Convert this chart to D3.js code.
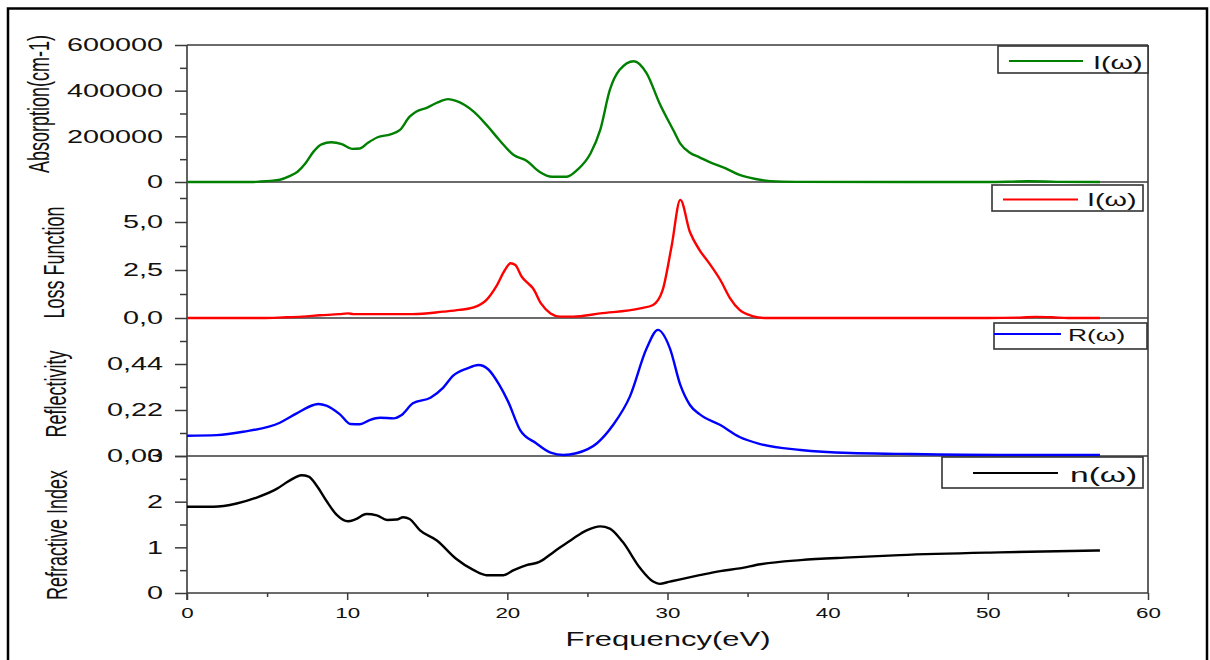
<!DOCTYPE html>
<html>
<head>
<meta charset="utf-8">
<script src="https://cdn.jsdelivr.net/npm/d3@7/dist/d3.min.js"></script>
<style>
  html, body { margin: 0; padding: 0; background: #fff; }
  svg { display: block; }
  text { font-family: "Liberation Sans", Arial, sans-serif; fill: #111; }
</style>
</head>
<body>
<svg id="chart" width="1210" height="660"></svg>
<script>
// ---------------- DATA ----------------
const xTicks = [0, 10, 20, 30, 40, 50, 60];
const xMinor = [5, 15, 25, 35, 45, 55];

// Absorption I(w)
const absE = [0, 2, 4, 4.6, 5.2, 5.8, 6.4, 6.9, 7.4, 7.9, 8.4, 9.0, 9.66, 10.3, 10.8, 11.3, 11.9, 12.7, 13.3, 13.9, 14.3, 15.0, 15.6, 16.3, 16.8, 17.9, 18.7, 19.5, 20.4, 21.2, 22.0, 22.8, 23.7, 24.4, 25.2, 25.8, 26.4, 27.0, 27.9, 28.7, 29.5, 30.4, 30.8, 31.4, 32.0, 32.6, 33.6, 34.5, 35.5, 36.4, 38, 45, 50, 51.5, 52.5, 53.5, 54.5, 57];
const absV = [0, 0, 0, 2000, 5000, 10000, 26000, 45000, 82000, 133000, 165000, 174000, 166000, 145000, 147000, 172000, 196000, 209000, 228000, 286000, 308000, 326000, 347000, 363000, 355000, 308000, 250000, 184000, 118000, 93000, 45000, 23000, 23000, 55000, 126000, 228000, 403000, 490000, 529000, 476000, 345000, 222000, 168000, 128000, 108000, 88000, 61000, 31000, 13000, 4000, 500, 0, 0, 1500, 3000, 2500, 500, 0];
const absTicks = [0, 200000, 400000, 600000];
const absMinor = [100000, 300000, 500000];
const absTickLabels = ["0", "200000", "400000", "600000"];

// Loss function L(w)
const lossE = [0, 4.7, 6, 7.2, 8.3, 9.5, 10.05, 10.4, 12, 14.1, 16.0, 17.0, 17.9, 18.7, 19.3, 19.85, 20.2, 20.5, 20.9, 21.3, 21.6, 22.1, 22.7, 23.3, 24.1, 25.8, 28.3, 29.1, 29.7, 30.25, 30.8, 31.4, 32.0, 32.6, 33.3, 33.9, 34.5, 35.3, 36.1, 40, 50, 52, 53, 54, 55, 57];
const lossV = [0, 0, 0.03, 0.07, 0.14, 0.2, 0.24, 0.2, 0.2, 0.2, 0.33, 0.42, 0.55, 0.94, 1.63, 2.5, 2.85, 2.76, 2.15, 1.8, 1.55, 0.76, 0.24, 0.07, 0.07, 0.24, 0.5, 0.68, 1.46, 3.71, 6.15, 4.48, 3.54, 2.86, 1.98, 1.04, 0.42, 0.1, 0, 0, 0, 0.02, 0.06, 0.04, 0, 0];
const lossTicks = [0, 2.5, 5.0];
const lossMinor = [1.25, 3.75, 6.25];
const lossTickLabels = ["0,0", "2,5", "5,0"];

// Reflectivity R(w)
const reflE = [0, 1.85, 3.5, 5.8, 6.85, 7.9, 8.2, 8.7, 9.55, 10.2, 10.8, 11.4, 12.05, 12.9, 13.4, 14.1, 15.2, 16.0, 16.6, 17.5, 18.2, 18.8, 19.5, 20.05, 20.8, 21.8, 22.7, 23.5, 24.3, 25.6, 26.6, 27.65, 28.7, 29.4, 30.15, 30.8, 31.4, 32.0, 33.3, 34.5, 35.8, 38.3, 41.4, 44.5, 50.7, 57];
const reflV = [0.097, 0.1, 0.116, 0.159, 0.204, 0.244, 0.249, 0.241, 0.199, 0.153, 0.152, 0.172, 0.183, 0.18, 0.196, 0.252, 0.279, 0.327, 0.383, 0.419, 0.435, 0.415, 0.34, 0.26, 0.124, 0.061, 0.016, 0.005, 0.013, 0.061, 0.148, 0.284, 0.515, 0.603, 0.515, 0.34, 0.244, 0.2, 0.148, 0.091, 0.057, 0.029, 0.014, 0.01, 0.005, 0.005];
const reflTicks = [0, 0.22, 0.44];
const reflMinor = [0.11, 0.33, 0.55];
const reflTickLabels = ["0,00", "0,22", "0,44"];

// Refractive index n(w)
const refE = [0, 1.65, 3.1, 4.35, 5.6, 6.4, 7.15, 7.6, 8.1, 8.7, 9.35, 10.05, 10.5, 11.2, 11.85, 12.5, 13.1, 13.5, 13.9, 14.55, 15.6, 16.8, 17.9, 18.7, 19.75, 20.4, 21.2, 22.0, 22.9, 24.1, 24.95, 25.8, 26.4, 27.2, 28.3, 29.1, 29.5, 30.15, 30.8, 32, 33.3, 34.5, 35.8, 38.3, 41.4, 44.5, 50.7, 57];
const refV = [1.89, 1.89, 1.96, 2.09, 2.28, 2.46, 2.58, 2.55, 2.35, 2.02, 1.71, 1.57, 1.61, 1.73, 1.70, 1.60, 1.61, 1.66, 1.62, 1.37, 1.15, 0.75, 0.5, 0.39, 0.39, 0.5, 0.61, 0.68, 0.9, 1.19, 1.37, 1.46, 1.41, 1.12, 0.54, 0.25, 0.2, 0.25, 0.3, 0.39, 0.48, 0.54, 0.63, 0.72, 0.78, 0.83, 0.89, 0.93];
const refTicks = [0, 1, 2, 3];
const refMinor = [0.5, 1.5, 2.5];
const refTickLabels = ["0", "1", "2", "3"];

const legendLabels = ["I(\u03c9)", "I(\u03c9)", "R(\u03c9)", "n(\u03c9)"];
const yTitles = ["Absorption(cm-1)", "Loss Function", "Reflectivity", "Refractive Index"];
const xTitle = "Frequency(eV)";

// ---------------- LAYOUT ----------------
const SX = 1.6; // horizontal stretch of the exported text
const svg = d3.select("#chart");
const X0 = 187, X1 = 1148;
const x = d3.scaleLinear().domain([0, 60]).range([X0, X1]);

const yAbs = d3.scaleLinear().domain([0, 600000]).range([182, 45]);
const yLoss = d3.scaleLinear().domain([0, 2.5]).range([318, 270]);
const yRefl = d3.scaleLinear().domain([0, 0.22]).range([456, 410]);
const yRef = d3.scaleLinear().domain([0, 3]).range([593, 456]);

const axisColor = "#3a3a3a";

// outer frame
svg.append("rect").attr("x", 8).attr("y", 8.5).attr("width", 1199).attr("height", 700)
  .attr("fill", "none").attr("stroke", "#000").attr("stroke-width", 2.5);

// y axes with ticks
function yAxis(scale, majors, minors, labels) {
  const gMin = svg.append("g").attr("transform", `translate(${X0},0)`)
    .call(d3.axisLeft(scale).tickValues(minors).tickSize(7).tickFormat(""));
  const gMaj = svg.append("g").attr("transform", `translate(${X0},0)`)
    .call(d3.axisLeft(scale).tickValues(majors).tickSize(12).tickPadding(12)
      .tickFormat((d, i) => labels[i]));
  [gMin, gMaj].forEach(g => {
    g.select(".domain").remove();
    g.selectAll("line").attr("stroke", axisColor).attr("stroke-width", 1.5);
  });
  gMaj.selectAll("text")
    .attr("x", -24 / SX)
    .attr("transform", `scale(${SX},1)`)
    .style("font-size", "18px")
    .attr("fill", "#111");
}
yAxis(yAbs, absTicks, absMinor, absTickLabels);
yAxis(yLoss, lossTicks, lossMinor, lossTickLabels);
yAxis(yRefl, reflTicks, reflMinor, reflTickLabels);
yAxis(yRef, refTicks, refMinor, refTickLabels);

// x axis
const gxMin = svg.append("g").attr("transform", `translate(0,593)`)
  .call(d3.axisBottom(x).tickValues(xMinor).tickSize(4).tickFormat(""));
const gxMaj = svg.append("g").attr("transform", `translate(0,593)`)
  .call(d3.axisBottom(x).tickValues(xTicks).tickSize(7).tickPadding(8).tickFormat(d3.format("d")));
[gxMin, gxMaj].forEach(g => {
  g.select(".domain").remove();
  g.selectAll("line").attr("stroke", axisColor).attr("stroke-width", 1.5);
});
gxMaj.selectAll("text").attr("transform", `scale(${SX},1)`).style("font-size", "14px").attr("fill", "#111");

// frame lines
const frame = svg.append("g").attr("stroke", axisColor).attr("stroke-width", 1.6).attr("fill", "none");
[45, 182, 318, 456, 593].forEach(yy => {
  frame.append("line").attr("x1", X0).attr("x2", X1).attr("y1", yy).attr("y2", yy);
});
frame.append("line").attr("x1", X0).attr("x2", X0).attr("y1", 45).attr("y2", 600);
frame.append("line").attr("x1", X1).attr("x2", X1).attr("y1", 45).attr("y2", 593);

// curves
function curve(E, V, yScale, color) {
  const pts = E.map((e, i) => [e, V[i]]);
  svg.append("path")
    .datum(pts)
    .attr("fill", "none")
    .attr("stroke", color)
    .attr("stroke-width", 2.4)
    .attr("stroke-linejoin", "round")
    .attr("d", d3.line().x(d => x(d[0])).y(d => yScale(d[1])).curve(d3.curveMonotoneX));
}
curve(absE, absV, yAbs, "#008000");
curve(lossE, lossV, yLoss, "#ff0000");
curve(reflE, reflV, yRefl, "#0000ff");
curve(refE, refV, yRef, "#000000");

// legends
const legends = [
  {box: [998, 46, 150, 27], line: [1009, 1083, 61], tx: 1093, ty: 63, size: 18, color: "#008000"},
  {box: [992, 185, 151, 26], line: [1003, 1078, 199.5], tx: 1087, ty: 200, size: 18, color: "#ff0000"},
  {box: [994, 323, 153, 26], line: [994, 1061, 334], tx: 1068, ty: 335, size: 16.5, color: "#0000ff"},
  {box: [942, 457, 201, 31], line: [973, 1058, 473], tx: 1070, ty: 475, size: 21, color: "#000000"}
];
legends.forEach((L, i) => {
  svg.append("rect").attr("x", L.box[0]).attr("y", L.box[1]).attr("width", L.box[2]).attr("height", L.box[3])
    .attr("fill", "#fff").attr("stroke", "#333").attr("stroke-width", 1.6);
  svg.append("line").attr("x1", L.line[0]).attr("x2", L.line[1]).attr("y1", L.line[2]).attr("y2", L.line[2])
    .attr("stroke", L.color).attr("stroke-width", 2.2);
  svg.append("text")
    .attr("transform", `translate(${L.tx},${L.ty}) scale(${SX},1)`)
    .attr("dy", "0.35em")
    .style("font-size", L.size + "px")
    .text(legendLabels[i]);
});

// y titles (rotated)
const yTitlePos = [[49, 104], [64, 262.5], [66, 394], [67, 535]];
yTitles.forEach((t, i) => {
  svg.append("text")
    .attr("transform", `translate(${yTitlePos[i][0]},${yTitlePos[i][1]}) scale(${SX},1) rotate(-90)`)
    .attr("text-anchor", "middle")
    .style("font-size", "18px")
    .text(t);
});

// x title
svg.append("text")
  .attr("transform", `translate(668,646) scale(1.55,1)`)
  .attr("text-anchor", "middle")
  .style("font-size", "20px")
  .text(xTitle);
</script>
</body>
</html>
